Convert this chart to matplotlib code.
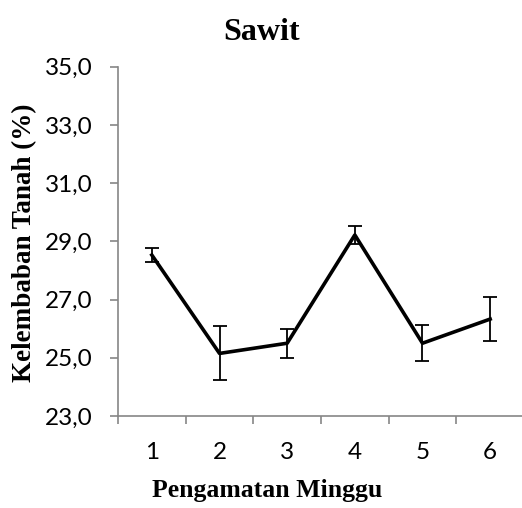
import matplotlib
matplotlib.use('Agg')
import matplotlib.pyplot as plt
import numpy as np

# data
minggu = ['1', '2', '3', '4', '5', '6']
kelembaban = [28.53, 25.15, 25.50, 29.22, 25.50, 26.33]
galat = [0.24, 0.93, 0.50, 0.30, 0.62, 0.75]
yticks = [23, 25, 27, 29, 31, 33, 35]

grey = '#868686'

fig = plt.figure(figsize=(5.22, 5.08), dpi=100)
ax = fig.add_axes([118/522, 92/508, 406/522, 349.3/508])

x = np.arange(1, len(minggu) + 1)
ax.errorbar(x, kelembaban, yerr=galat, color='black', lw=2.6,
            ecolor='black', elinewidth=1.3, capsize=5, capthick=1.3)

ax.set_xlim(0.5, len(minggu) + 0.5)
ax.set_ylim(23, 35)
ax.set_yticks(yticks)
ax.yaxis.set_major_formatter(plt.FuncFormatter(lambda v, p: ('%.1f' % v).replace('.', ',')))

# category labels in the middle, tick marks between categories
ax.set_xticks(np.arange(0.5, len(minggu) + 1, 1))
ax.set_xticklabels([])
ax.set_xticks(x, minor=True)
ax.set_xticklabels(minggu, minor=True)
ax.tick_params(axis='x', which='minor', length=0, pad=19)
ax.tick_params(axis='x', which='major', length=6, color=grey, width=1.2)
ax.tick_params(axis='y', length=6, color=grey, width=1.2, pad=12)

for lab in ax.get_xticklabels(minor=True) + ax.get_yticklabels():
    lab.set_fontfamily('Lato')
    lab.set_fontsize(17.5)

for s in ['top', 'right']:
    ax.spines[s].set_visible(False)
for s in ['left', 'bottom']:
    ax.spines[s].set_color(grey)
    ax.spines[s].set_linewidth(1.2)

fig.text(262/522, 1 - 32/508, 'Sawit', ha='center', va='center',
         fontfamily='Liberation Serif', fontweight='bold', fontsize=23)
fig.text(267/522, 1 - 491/508, 'Pengamatan Minggu', ha='center', va='center',
         fontfamily='Liberation Serif', fontweight='bold', fontsize=18.5)
fig.text(25/522, 1 - 243/508, 'Kelembaban Tanah (%)', ha='center', va='center',
         rotation=90, fontfamily='Liberation Serif', fontweight='bold', fontsize=19.5)

fig.savefig('out.png', dpi=100)
